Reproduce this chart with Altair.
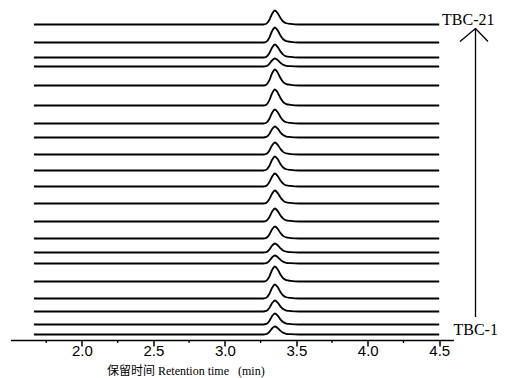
import altair as alt
import pandas as pd

# Stacked chromatograms TBC-1 .. TBC-21 (offset baseline and peak height, in offset units)
samples = [f"TBC-{i}" for i in range(1, 22)]
baselines = [5.5, 15.5, 28.5, 41.5, 58.5, 76.5, 87.5, 101.5, 118.5, 136.5, 153.5,
             169.5, 185.5, 202.5, 216.5, 234.5, 254.5, 273.5, 282.5, 297.5, 315.5]
peak_heights = [8, 11, 11, 14, 15, 8, 9, 12, 13, 13, 13,
                14, 12, 11, 14, 16, 16, 8, 13, 15, 14]

# Peak profile (retention time, relative response)
profile_t = [1.664, 3.27, 3.29, 3.31, 3.33, 3.35, 3.37, 3.39, 3.41, 3.43, 3.46, 3.52, 4.50]
profile_r = [0.0, 0.0, 0.05, 0.3, 0.75, 1.0, 0.8, 0.45, 0.2, 0.09, 0.04, 0.0, 0.0]

major_ticks = [2.0, 2.5, 3.0, 3.5, 4.0, 4.5]
minor_ticks = [1.75, 2.25, 2.75, 3.25, 3.75, 4.25]

end_labels = ["TBC-1", "TBC-21"]
end_label_x = [4.60, 4.52]
end_label_y = [baselines[0], baselines[-1]]

rows = []
for s, b, h in zip(samples, baselines, peak_heights):
    for k, (t, r) in enumerate(zip(profile_t, profile_r)):
        rows.append({"sample": s, "order": k, "t": t, "v": b + h * r})
df = pd.DataFrame(rows)

W, H = 443, 332
xs = alt.Scale(domain=[1.5, 4.6], nice=False, zero=False)
ys = alt.Scale(domain=[0, H], nice=False, zero=False)

serif = "Liberation Serif, Noto Sans CJK SC"

traces = alt.Chart(df).mark_line(color="black", strokeWidth=1.8, interpolate="monotone").encode(
    x=alt.X("t:Q", scale=xs, axis=alt.Axis(
        values=major_ticks, format=".1f", tickSize=6, tickWidth=1.5, tickColor="black",
        domainColor="black", domainWidth=1.5, labelFont="Liberation Sans", labelFontSize=15,
        labelColor="black", labelPadding=-3, grid=False,
        title="保留时间 Retention time\u00a0\u00a0\u00a0(min)", titleFont=serif,
        titleFontSize=12, titleFontWeight="normal", titleColor="black",
        titleAnchor="start", titleAlign="left", titleX=96, titleY=34,
        titleBaseline="alphabetic")),
    y=alt.Y("v:Q", scale=ys, axis=None),
    detail="sample:N",
    order="order:Q",
)

minor = alt.Chart(pd.DataFrame({"t": minor_ticks})).mark_rule(color="black", strokeWidth=1.3).encode(
    x=alt.X("t:Q", scale=xs),
    y=alt.value(H),
    y2=alt.value(H + 3),
)

labels = alt.Chart(pd.DataFrame({"t": end_label_x, "v": end_label_y, "lab": end_labels})).mark_text(
    font="Liberation Serif", fontSize=16, align="left", baseline="alphabetic", color="black"
).encode(
    x=alt.X("t:Q", scale=xs),
    y=alt.Y("v:Q", scale=ys),
    text="lab:N",
)

arrow_shaft = alt.Chart(pd.DataFrame({"a": [0]})).mark_rule(color="black", strokeWidth=1.3).encode(
    x=alt.value(465), y=alt.value(20.5), y2=alt.value(309)
)
arrow_left = alt.Chart(pd.DataFrame({"a": [0]})).mark_rule(color="black", strokeWidth=1.3).encode(
    x=alt.value(449.5), x2=alt.value(465), y=alt.value(33.5), y2=alt.value(20.5)
)
arrow_right = alt.Chart(pd.DataFrame({"a": [0]})).mark_rule(color="black", strokeWidth=1.3).encode(
    x=alt.value(465), x2=alt.value(477.5), y=alt.value(20.5), y2=alt.value(33.5)
)

chart = alt.layer(traces, minor, labels, arrow_shaft, arrow_left, arrow_right).properties(
    width=W, height=H,
    autosize=alt.AutoSizeParams(type="none"),
    padding={"left": 2.5, "top": 0, "right": 46, "bottom": 40},
).configure_view(stroke=None)

chart.save("out.html", embed_options={"renderer": "svg", "actions": False})
